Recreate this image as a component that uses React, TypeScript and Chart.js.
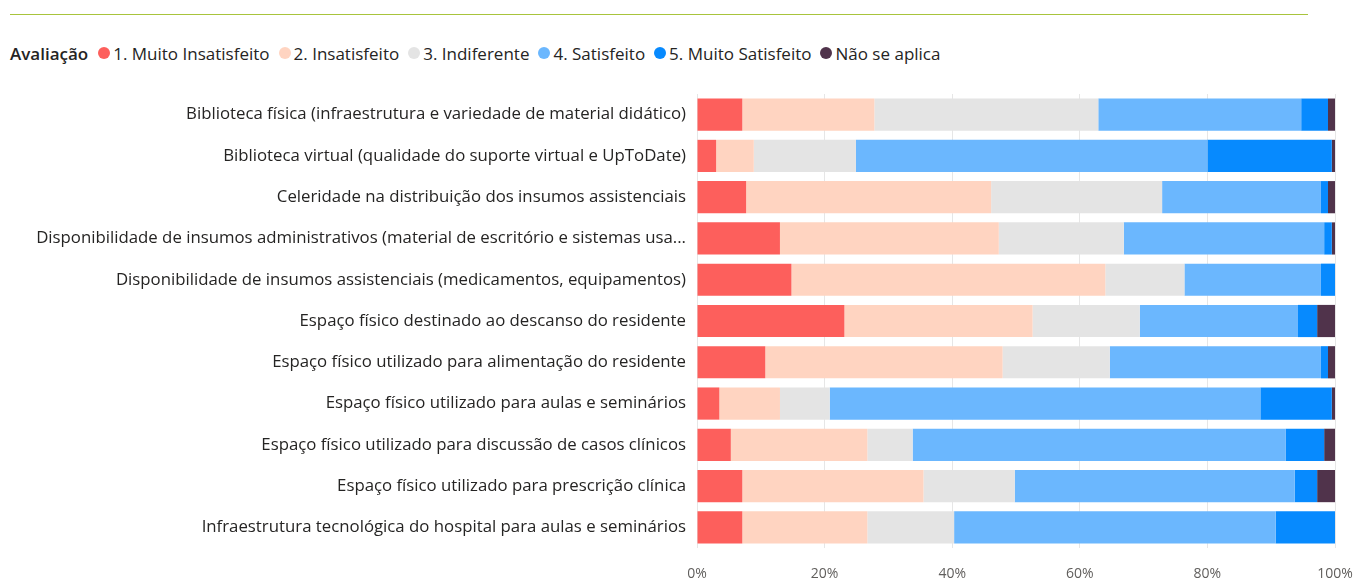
import React, { useEffect, useRef } from "react";
import { Chart, registerables } from "chart.js";

Chart.register(...registerables);

const categories: string[] = [
  "Biblioteca física (infraestrutura e variedade de material didático)",
  "Biblioteca virtual (qualidade do suporte virtual e UpToDate)",
  "Celeridade na distribuição dos insumos assistenciais",
  "Disponibilidade de insumos administrativos (material de escritório e sistemas usa...",
  "Disponibilidade de insumos assistenciais (medicamentos, equipamentos)",
  "Espaço físico destinado ao descanso do residente",
  "Espaço físico utilizado para alimentação do residente",
  "Espaço físico utilizado para aulas e seminários",
  "Espaço físico utilizado para discussão de casos clínicos",
  "Espaço físico utilizado para prescrição clínica",
  "Infraestrutura tecnológica do hospital para aulas e seminários",
];

const seriesNames: string[] = [
  "1. Muito Insatisfeito",
  "2. Insatisfeito",
  "3. Indiferente",
  "4. Satisfeito",
  "5. Muito Satisfeito",
  "Não se aplica",
];

const muitoInsatisfeito: number[] = [7.1, 3.0, 7.7, 13.0, 14.8, 23.1, 10.7, 3.5, 5.3, 7.1, 7.1];
const insatisfeito: number[] = [20.7, 5.9, 38.4, 34.3, 49.2, 29.5, 37.2, 9.5, 21.4, 28.4, 19.6];
const indiferente: number[] = [35.1, 16.0, 26.8, 19.6, 12.4, 16.8, 16.8, 7.8, 7.1, 14.3, 13.6];
const satisfeito: number[] = [31.8, 55.1, 24.9, 31.4, 21.4, 24.8, 33.1, 67.5, 58.5, 43.9, 50.4];
const muitoSatisfeito: number[] = [4.2, 19.5, 1.1, 1.2, 2.2, 3.0, 1.1, 11.2, 6.0, 3.5, 9.3];
const naoSeAplica: number[] = [1.1, 0.5, 1.1, 0.5, 0, 2.8, 1.1, 0.5, 1.7, 2.8, 0];

const xTicks: number[] = [0, 20, 40, 60, 80, 100];

const colors: string[] = ["#FD5F5C", "#FFD4C1", "#E4E4E4", "#6BB7FE", "#078AFE", "#50334B"];

const FONT = "'Open Sans', 'Noto Sans', sans-serif";

export default function App() {
  const canvasRef = useRef<HTMLCanvasElement | null>(null);

  useEffect(() => {
    if (!canvasRef.current) return;
    const seriesData = [muitoInsatisfeito, insatisfeito, indiferente, satisfeito, muitoSatisfeito, naoSeAplica];
    const chart = new Chart(canvasRef.current, {
      type: "bar",
      data: {
        labels: categories,
        datasets: seriesData.map((d, i) => ({
          label: seriesNames[i],
          data: d,
          backgroundColor: colors[i],
          borderWidth: 0,
          barPercentage: 0.78,
          categoryPercentage: 1,
        })),
      },
      options: {
        indexAxis: "y",
        animation: false,
        responsive: false,
        maintainAspectRatio: false,
        layout: { padding: { left: 0, right: 22, top: 14, bottom: 0 } },
        plugins: {
          legend: { display: false },
          tooltip: { enabled: false },
        },
        scales: {
          x: {
            stacked: true,
            min: 0,
            max: 100,
            afterBuildTicks: (axis: any) => {
              axis.ticks = xTicks.map((v) => ({ value: v }));
            },
            afterFit: (axis: any) => {
              axis.height = 35;
              axis.paddingLeft = 0;
              axis.paddingRight = 0;
            },
            ticks: {
              callback: (v: any) => v + "%",
              color: "#605E5C",
              font: { family: FONT, size: 14 },
              padding: 18,
              maxRotation: 0,
            },
            grid: { color: "#E6E6E6", drawTicks: false, lineWidth: 1 },
            border: { display: false },
          },
          y: {
            stacked: true,
            afterFit: (axis: any) => {
              axis.width = 697;
              axis.paddingTop = 0;
              axis.paddingBottom = 0;
            },
            ticks: {
              color: "#252423",
              font: { family: FONT, size: 16.8 },
              padding: 11,
            },
            grid: { display: false, drawTicks: false },
            border: { display: false },
          },
        },
      },
    });
    return () => chart.destroy();
  }, []);

  return (
    <div
      style={{
        position: "fixed",
        left: 0,
        top: 0,
        width: 1357,
        height: 583,
        background: "#fff",
        fontFamily: FONT,
      }}
    >
      <div
        style={{
          position: "absolute",
          left: 10,
          top: 14,
          width: 1298,
          height: 1,
          background: "#A8C43C",
        }}
      />
      <div
        style={{
          position: "absolute",
          left: 10,
          top: 41,
          height: 24,
          display: "flex",
          alignItems: "center",
          fontSize: 17,
          color: "#252423",
          whiteSpace: "nowrap",
        }}
      >
        <span style={{ fontWeight: 600, marginRight: 10 }}>Avaliação</span>
        {seriesNames.map((n, i) => (
          <span key={n} style={{ display: "flex", alignItems: "center", marginRight: 9 }}>
            <span
              style={{
                display: "inline-block",
                width: 12,
                height: 12,
                borderRadius: 6,
                background: colors[i],
                marginRight: 3,
              }}
            />
            <span>{n}</span>
          </span>
        ))}
      </div>
      <canvas
        ref={canvasRef}
        width={1357}
        height={503}
        style={{ position: "absolute", left: 0, top: 80, width: 1357, height: 503 }}
      />
    </div>
  );
}
